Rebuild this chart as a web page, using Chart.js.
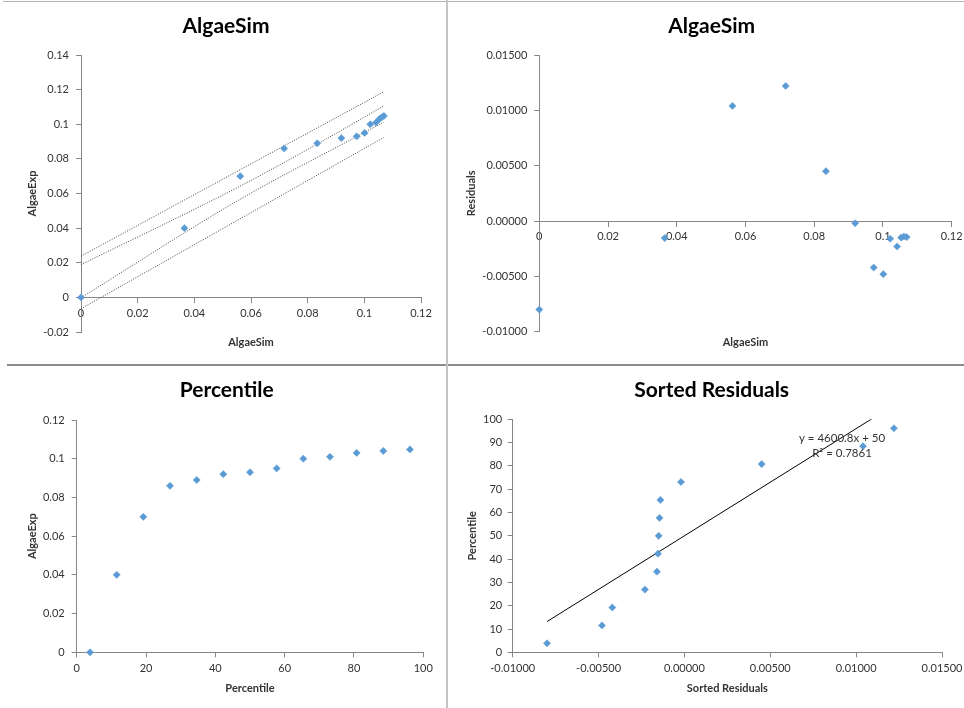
<!DOCTYPE html>
<html>
<head>
<meta charset="utf-8">
<script src="https://cdn.jsdelivr.net/npm/chart.js@4/dist/chart.umd.min.js"></script>
<style>
  html, body { margin: 0; padding: 0; background: #fff; overflow: hidden; width: 964px; height: 708px; }
  canvas { position: absolute; }
  .rule { position: absolute; z-index: 2; }
</style>
</head>
<body>
<canvas id="c1" width="442" height="362" style="left:4px;top:2px"></canvas>
<canvas id="c2" width="529" height="362" style="left:447px;top:2px"></canvas>
<canvas id="c3" width="442" height="342" style="left:4px;top:366px"></canvas>
<canvas id="c4" width="529" height="342" style="left:447px;top:366px"></canvas>

<div class="rule" style="left:3px;top:1px;width:961px;height:1px;background:#b4b4b4"></div>
<div class="rule" style="left:7px;top:364px;width:957px;height:2px;background:#8c8c8c"></div>
<div class="rule" style="left:446px;top:0;width:2px;height:708px;background:#c4c4c4"></div>

<script>
// Simulated vs. experimental algae concentration, one entry per sample
const algaeSim = [0, 0.0365, 0.0562, 0.0717, 0.0834, 0.0919, 0.0973, 0.1001, 0.1021, 0.1041, 0.1053, 0.1061, 0.1069];
const algaeExp = [0, 0.040, 0.070, 0.086, 0.089, 0.092, 0.093, 0.095, 0.100, 0.101, 0.103, 0.104, 0.1048];
const residuals = [-0.0080, -0.00154, 0.0104, 0.0122, 0.0045, -0.0002, -0.0042, -0.0048, -0.0016, -0.0023, -0.0015, -0.0014, -0.00145];

// Percentile plot: measured values in ascending order
const percentiles = [3.85, 11.54, 19.23, 26.92, 34.62, 42.31, 50.00, 57.69, 65.38, 73.08, 80.77, 88.46, 96.15];
const sortedAlgaeExp = [0, 0.040, 0.070, 0.086, 0.089, 0.092, 0.093, 0.095, 0.100, 0.101, 0.103, 0.104, 0.1048];
const sortedResiduals = [-0.0080, -0.0048, -0.0042, -0.0023, -0.0016, -0.00154, -0.0015, -0.00145, -0.0014, -0.0002, 0.0045, 0.0104, 0.0122];

// Prediction (outer) and confidence (inner) band lines around the fit
const upperPredSim = [0, 0.1069];
const upperPredExp = [0.0238, 0.1188];
const lowerPredSim = [0, 0.1069];
const lowerPredExp = [-0.0066, 0.0924];
const upperConfSim = [0, 0.0561, 0.0834, 0.1069];
const upperConfExp = [0.0189, 0.0642, 0.0886, 0.1106];
const lowerConfSim = [0, 0.0561, 0.0973, 0.1069];
const lowerConfExp = [-0.0002, 0.0566, 0.0929, 0.1013];

// Linear trendline of percentile against sorted residuals
const trendSlope = 4600.8;
const trendIntercept = 50;
const trendR2 = 0.7861;

const FONT = 'Lato';
const AXIS = '#868686';
const TEXT = '#333333';
const MARK = '#5B9BD5';

const pts = (xs, ys) => xs.map((x, i) => ({ x, y: ys[i] }));
const general = v => String(parseFloat(Number(v).toFixed(4)));
const fixed5 = v => Number(v).toFixed(5);

const tickFont = { family: FONT, size: 11 };
const titleFont = { family: FONT, size: 11, weight: 'bold' };

function markers(data) {
  return {
    data, pointStyle: 'rectRot', pointRadius: 3.6, pointHoverRadius: 3.6,
    backgroundColor: MARK, borderColor: MARK, borderWidth: 0.5, showLine: false,
    clip: false, order: 0
  };
}
function band(xs, ys) {
  return {
    data: pts(xs, ys), showLine: true, pointRadius: 0, borderColor: '#404040',
    borderWidth: 1, borderDash: [1, 1.5], cubicInterpolationMode: 'monotone', fill: false, order: 1
  };
}
function valueAxis(opts) {
  const ax = {
    type: 'linear', min: opts.min, max: opts.max,
    ticks: { stepSize: opts.step, callback: opts.fmt, font: tickFont, color: TEXT,
             padding: opts.pad, autoSkip: false, maxRotation: 0, includeBounds: true },
    grid: { drawOnChartArea: false, drawTicks: true, tickLength: 5, color: AXIS, lineWidth: 1 },
    border: { display: true, color: AXIS, width: 1 }
  };
  if (opts.position !== undefined) ax.position = opts.position;
  if (opts.title) ax.title = { display: true, text: opts.title, font: titleFont, color: TEXT, padding: opts.titlePad };
  if (opts.width !== undefined) ax.afterFit = s => { s.width = opts.width; };
  if (opts.height !== undefined) ax.afterFit = s => { s.height = opts.height; };
  return ax;
}
function titleAxis(text, height, padBottom) {
  return {
    axis: 'x', type: 'linear', position: 'bottom',
    ticks: { display: false }, grid: { display: false }, border: { display: false },
    title: { display: true, text, font: titleFont, color: TEXT, padding: { top: 0, bottom: padBottom } },
    afterFit: s => { s.height = height; }
  };
}

// Chart heading drawn centred at a fixed spot in each panel
const panelTitle = {
  id: 'panelTitle',
  afterDraw(chart, args, o) {
    const ctx = chart.ctx;
    ctx.save();
    ctx.font = `bold ${o.size}px ${FONT}`;
    ctx.fillStyle = '#000';
    ctx.textAlign = 'center';
    ctx.textBaseline = 'middle';
    ctx.fillText(o.text, o.x, o.y);
    ctx.restore();
  }
};
// Trendline equation block
const trendLabel = {
  id: 'trendLabel',
  afterDraw(chart, args, o) {
    if (!o.lines) return;
    const ctx = chart.ctx;
    ctx.save();
    ctx.font = `${o.size}px ${FONT}`;
    ctx.fillStyle = TEXT;
    ctx.textAlign = 'center';
    ctx.textBaseline = 'middle';
    o.lines.forEach((t, i) => ctx.fillText(t, o.x, o.y + i * o.gap));
    ctx.restore();
  }
};

const base = (padding, title) => ({
  responsive: false, animation: false, devicePixelRatio: 1,
  layout: { padding },
  plugins: { legend: { display: false }, tooltip: { enabled: false }, panelTitle: title },
  elements: { line: { tension: 0 } }
});

// Top left: AlgaeExp vs AlgaeSim with bands
new Chart(document.getElementById('c1'), {
  type: 'scatter',
  data: { datasets: [
    markers(pts(algaeSim, algaeExp)),
    band(upperPredSim, upperPredExp), band(upperConfSim, upperConfExp),
    band(lowerConfSim, lowerConfExp), band(lowerPredSim, lowerPredExp)
  ] },
  options: Object.assign(base({ left: 0, top: 53, right: 25, bottom: 0 },
      { text: 'AlgaeSim', x: 222, y: 24, size: 21 }), {
    scales: {
      x: valueAxis({ min: 0, max: 0.12, step: 0.02, fmt: general, pad: 4, position: { y: 0 } }),
      xt: titleAxis('AlgaeSim', 32, 15),
      y: valueAxis({ min: -0.02, max: 0.14, step: 0.02, fmt: general, pad: 7, width: 77,
                     title: 'AlgaeExp', titlePad: { top: 22, bottom: 0 } })
    }
  }),
  plugins: [panelTitle]
});

// Top right: residuals vs AlgaeSim
new Chart(document.getElementById('c2'), {
  type: 'scatter',
  data: { datasets: [ markers(pts(algaeSim, residuals)) ] },
  options: Object.assign(base({ left: 0, top: 53, right: 24.3, bottom: 0 },
      { text: 'AlgaeSim', x: 264.7, y: 24, size: 21 }), {
    scales: {
      x: valueAxis({ min: 0, max: 0.12, step: 0.02, fmt: general, pad: 4, position: { y: 0 } }),
      xt: titleAxis('AlgaeSim', 32.3, 15),
      y: valueAxis({ min: -0.01, max: 0.015, step: 0.005, fmt: fixed5, pad: 7, width: 92.3,
                     title: 'Residuals', titlePad: { top: 17.7, bottom: 0 } })
    }
  }),
  plugins: [panelTitle]
});

// Bottom left: AlgaeExp by percentile
new Chart(document.getElementById('c3'), {
  type: 'scatter',
  data: { datasets: [ markers(pts(percentiles, sortedAlgaeExp)) ] },
  options: Object.assign(base({ left: 0, top: 54, right: 22.7, bottom: 0 },
      { text: 'Percentile', x: 222.7, y: 24, size: 21 }), {
    scales: {
      x: valueAxis({ min: 0, max: 100, step: 20, fmt: general, pad: 5, height: 55.7,
                     title: 'Percentile', titlePad: { top: 0, bottom: 12.7 } }),
      y: valueAxis({ min: 0, max: 0.12, step: 0.02, fmt: general, pad: 7, width: 72.7,
                     title: 'AlgaeExp', titlePad: { top: 21.7, bottom: 0 } })
    }
  }),
  plugins: [panelTitle]
});

// Bottom right: normal-probability style plot of sorted residuals with trendline
const trendEnds = [sortedResiduals[0], sortedResiduals[sortedResiduals.length - 1]];
new Chart(document.getElementById('c4'), {
  type: 'scatter',
  data: { datasets: [
    markers(pts(sortedResiduals, percentiles)),
    { data: trendEnds.map(x => ({ x, y: trendSlope * x + trendIntercept })), showLine: true,
      pointRadius: 0, borderColor: '#000', borderWidth: 1, fill: false, order: 1 }
  ] },
  options: Object.assign(base({ left: 0, top: 53.3, right: 34, bottom: 0 },
      { text: 'Sorted Residuals', x: 264.7, y: 24, size: 21 }), {
    scales: {
      x: valueAxis({ min: -0.01, max: 0.015, step: 0.005, fmt: fixed5, pad: 5, height: 55.7,
                     title: 'Sorted Residuals', titlePad: { top: 0, bottom: 12.7 } }),
      y: valueAxis({ min: 0, max: 100, step: 10, fmt: general, pad: 5.5, width: 65.7,
                     title: 'Percentile', titlePad: { top: 18.7, bottom: 0 } })
    }
  }),
  plugins: [panelTitle, trendLabel]
});
Chart.getChart('c4').options.plugins.trendLabel = {
  lines: [`y = ${trendSlope}x + ${trendIntercept}`, `R\u00B2 = ${trendR2}`],
  x: 395, y: 72.3, gap: 15, size: 11.5
};
Chart.getChart('c4').update('none');
</script>
</body>
</html>
